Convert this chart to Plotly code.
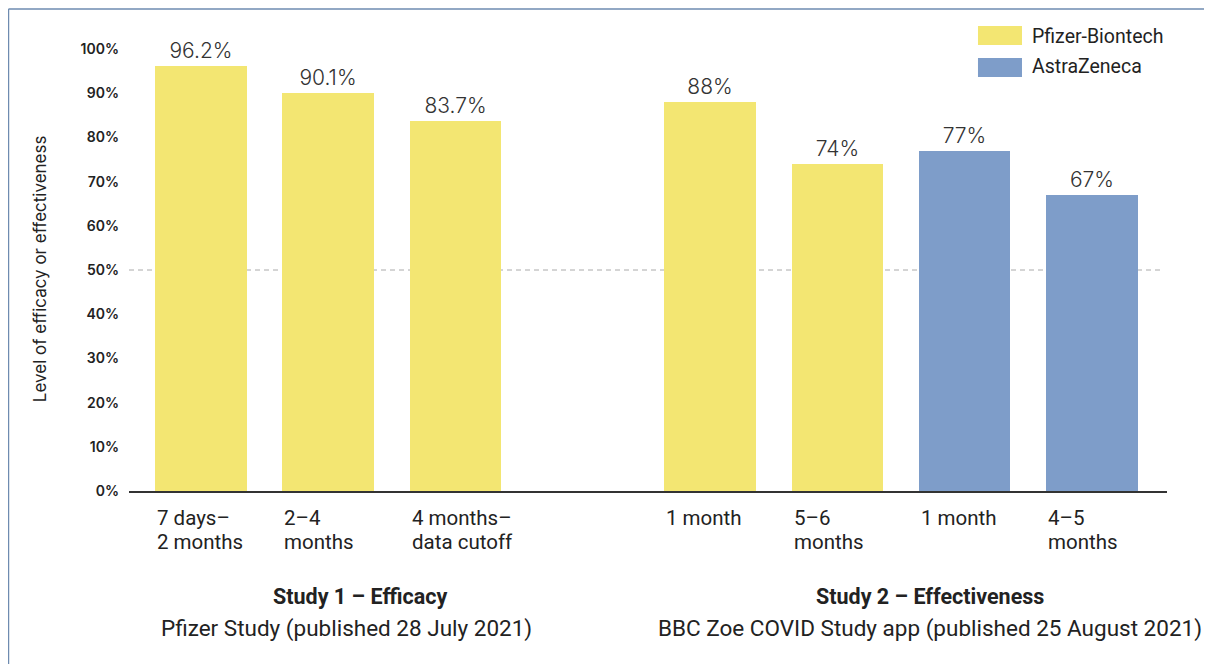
import plotly.graph_objects as go

# ---- data ----
categories = ["7 days–<br>2 months", "2–4<br>months", "4 months–<br>data cutoff",
              "1 month", "5–6<br>months", "1 month", "4–5<br>months"]
positions = [0, 1, 2, 4, 5, 6, 7]
values = [96.2, 90.1, 83.7, 88, 74, 77, 67]
vaccines = ["Pfizer-Biontech"] * 5 + ["AstraZeneca"] * 2
series_names = ["Pfizer-Biontech", "AstraZeneca"]
series_colors = {"Pfizer-Biontech": "#F3E672", "AstraZeneca": "#7E9DC9"}
y_ticks = list(range(0, 101, 10))
y_tick_text = [f"{t}%" for t in y_ticks]
study_titles = ["Study 1 – Efficacy", "Study 2 – Effectiveness"]
study_subtitles = ["Pfizer Study (published 28 July 2021)",
                   "BBC Zoe COVID Study app (published 25 August 2021)"]
y_title = "Level of efficacy or effectiveness"

BAR_W = 0.72
FONT = "Roboto"

fig = go.Figure()
for name in series_names:
    xs = [p for p, v in zip(positions, vaccines) if v == name]
    ys = [val for val, v in zip(values, vaccines) if v == name]
    fig.add_trace(go.Bar(
        x=xs, y=ys, name=name, width=BAR_W,
        marker=dict(color=series_colors[name], line=dict(width=0)),
        text=[f"{y:g}%" for y in ys], textposition="outside",
        textfont=dict(family="Inter", size=21, color="#333333", weight=300),
        constraintext="none", cliponaxis=False, showlegend=False,
    ))

annotations = []
# category labels (left aligned at bar left edge), one annotation per line
for p, c in zip(positions, categories):
    for i, line in enumerate(c.split("<br>")):
        annotations.append(dict(
            x=p - BAR_W / 2, xref="x", xanchor="left",
            y=-0.03, yref="paper", yanchor="top", yshift=-24 * i,
            text=line, align="left", showarrow=False,
            font=dict(family=FONT, size=20.5, color="#222222"),
        ))

# study titles
title_x = [0.2225, 0.7717]
sub_x = [0.2091, 0.7717]
for t, s, tx, sx in zip(study_titles, study_subtitles, title_x, sub_x):
    annotations.append(dict(x=tx, xref="paper", y=-0.2398, yref="paper",
                            xanchor="center", yanchor="middle", text=f"<b>{t}</b>",
                            showarrow=False, font=dict(family=FONT, size=21.5, color="#222222")))
    annotations.append(dict(x=sx, xref="paper", y=-0.31, yref="paper",
                            xanchor="center", yanchor="middle", text=s,
                            showarrow=False, font=dict(family=FONT, size=22.5, color="#222222")))

# y axis title
annotations.append(dict(x=-0.0857, xref="paper", y=0.502, yref="paper",
                        xanchor="center", yanchor="middle", text=y_title, textangle=-90,
                        showarrow=False, font=dict(family="Inter", size=17, color="#222222")))

# custom legend
shapes = []
leg_rows = [(1.009, 1.052, 1.0294), (0.9367, 0.9796, 0.9593)]
for name, (y0, y1, yc) in zip(series_names, leg_rows):
    shapes.append(dict(type="rect", xref="paper", yref="paper",
                       x0=0.8179, x1=0.8603, y0=y0, y1=y1,
                       fillcolor=series_colors[name], line=dict(width=0)))
    annotations.append(dict(x=0.8680, xref="paper", y=yc, yref="paper",
                            xanchor="left", yanchor="middle", text=name, showarrow=False,
                            font=dict(family=FONT, size=19.5, color="#222222")))

# 50% dashed reference line
shapes.append(dict(type="line", xref="paper", yref="y", x0=0, x1=0.996, y0=50, y1=50,
                   line=dict(color="#AAAAAA", width=1, dash="5px,4px"), layer="below"))

# frame lines (top and left)
shapes.append(dict(type="line", xref="paper", yref="paper", x0=-0.1161, x1=1.06,
                   y0=1.0905, y1=1.0905, line=dict(color="#6E8BB0", width=1.5)))
shapes.append(dict(type="line", xref="paper", yref="paper", x0=-0.1161, x1=-0.1161,
                   y0=1.0905, y1=-0.42, line=dict(color="#6E8BB0", width=1.5)))

fig.update_layout(
    width=1212, height=664,
    margin=dict(l=121, r=53, t=41, b=181),
    paper_bgcolor="white", plot_bgcolor="white",
    bargap=0,
    xaxis=dict(range=[-0.566, 7.59], showticklabels=False, showgrid=False,
               zeroline=False, showline=True, linecolor="#333333", linewidth=2,
               ticks="", fixedrange=True),
    yaxis=dict(range=[0, 100], tickvals=y_ticks, ticktext=y_tick_text, showgrid=False,
               zeroline=False, showline=False, ticks="", ticklabelstandoff=9,
               tickfont=dict(family="Inter", size=14, color="#222222", weight=600)),
    annotations=annotations,
    shapes=shapes,
)

fig.write_html("out.html")
